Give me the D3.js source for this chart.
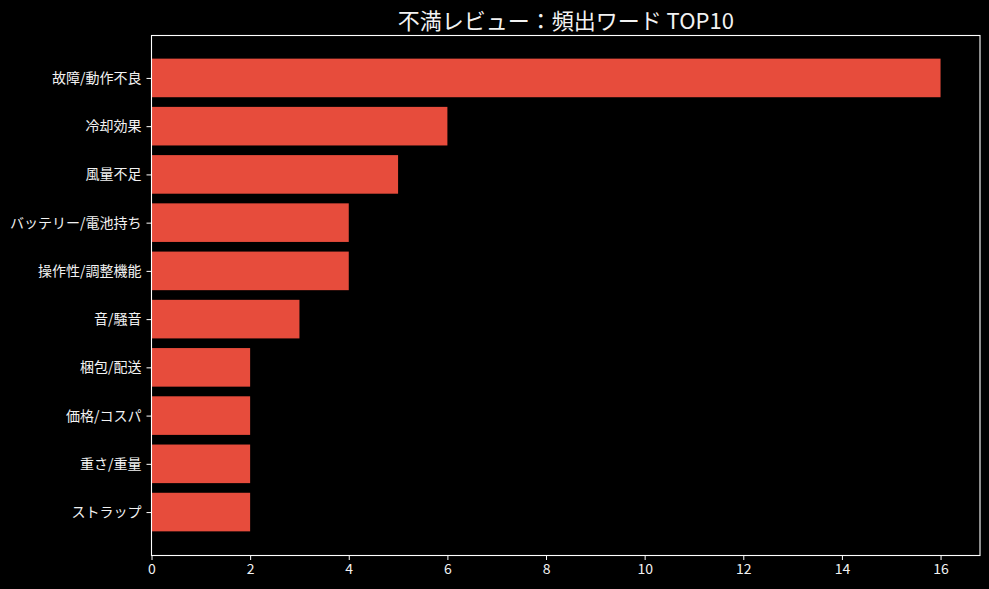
<!DOCTYPE html>
<html><head><meta charset="utf-8">
<script src="https://cdn.jsdelivr.net/npm/d3@7"></script>
<style>html,body{margin:0;padding:0;background:#000;}svg{display:block;}</style>
</head><body>
<script>
const categories = ["故障/動作不良","冷却効果","風量不足","バッテリー/電池持ち","操作性/調整機能","音/騒音","梱包/配送","価格/コスパ","重さ/重量","ストラップ"];
const counts = [16,6,5,4,4,3,2,2,2,2];
const xTicks = [0,2,4,6,8,10,12,14,16];
const title = "不満レビュー：頻出ワード TOP10";

const W = 989, H = 589;
const L = 151.5, R = 980, T = 35, B = 555;
const font = "'Noto Sans CJK JP','Noto Sans',sans-serif";
const svg = d3.select("body").append("svg").attr("width", W).attr("height", H).style("background", "#000");

const n = categories.length;
const x = d3.scaleLinear().domain([0, d3.max(counts) * 1.05]).range([L, R]);
const y = d3.scaleLinear().domain([-0.4 - 0.05 * 9.8, n - 1 + 0.4 + 0.05 * 9.8]).range([T, B]);

svg.selectAll("rect.bar").data(categories).enter().append("rect")
  .attr("class", "bar")
  .attr("x", x(0))
  .attr("y", (d, i) => y(i - 0.4))
  .attr("width", (d, i) => x(counts[i]) - x(0))
  .attr("height", (d, i) => y(i + 0.4) - y(i - 0.4))
  .attr("fill", "#e74c3c");

// frame
svg.append("rect").attr("x", L).attr("y", T + 0.5).attr("width", R - L).attr("height", B - T)
  .attr("fill", "none").attr("stroke", "#ffffff").attr("stroke-width", 1.1);

const xAxis = svg.append("g").attr("transform", `translate(0,${B})`)
  .call(d3.axisBottom(x).tickValues(xTicks).tickSize(5).tickPadding(4).tickFormat(d3.format("d")));
const yAxis = svg.append("g").attr("transform", `translate(${L},0)`)
  .call(d3.axisLeft(y).tickValues(d3.range(n)).tickSize(5).tickPadding(5).tickFormat(i => categories[i]));
[xAxis, yAxis].forEach(g => {
  g.select(".domain").remove();
  g.selectAll("line").attr("stroke", "#fff").attr("stroke-width", 1);
  g.selectAll("text").attr("fill", "#f2f2f2").style("font-family", font).style("font-size", "14px");
});

svg.append("text").attr("x", (L + R) / 2).attr("y", 29).attr("text-anchor", "middle")
  .attr("fill", "#f2f2f2").style("font-family", font).style("font-size", "22px").text(title);
</script>
</body></html>
